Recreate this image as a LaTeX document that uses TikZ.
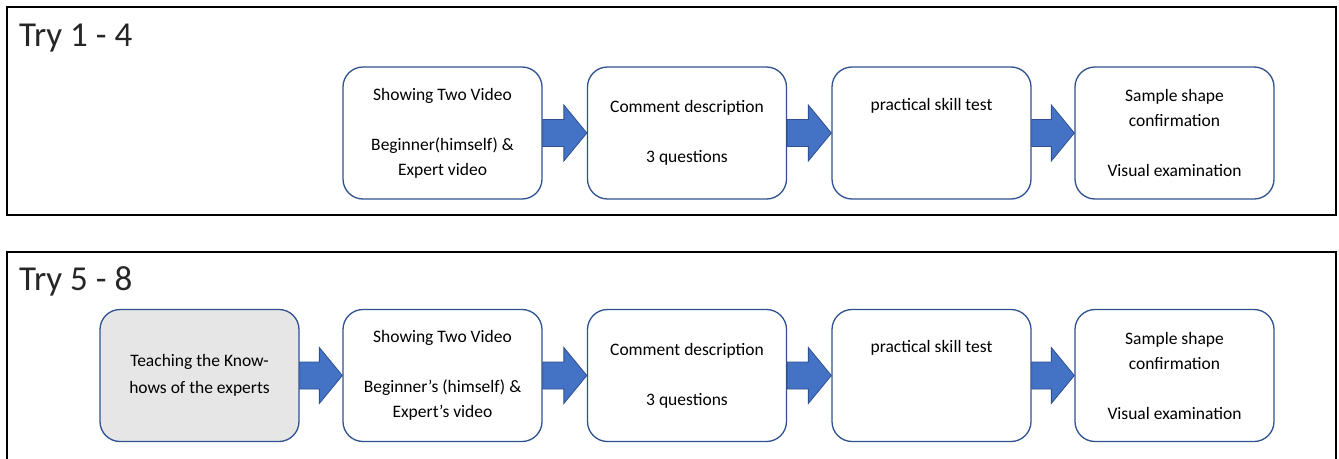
\documentclass[tikz,border=0pt]{standalone}
\usepackage{fontspec}
\setmainfont{Carlito}
\usetikzlibrary{calc}
\definecolor{boxblue}{HTML}{2F528F}
\definecolor{arrowfill}{HTML}{4472C4}
\definecolor{grayfill}{HTML}{E7E6E6}
\tikzset{
  panel/.style={draw=black, line width=1.6pt},
  stepbox/.style={draw=boxblue, line width=1.3pt, rounded corners=20pt, fill=white,
    minimum width=199pt, minimum height=132pt, align=center, inner sep=0pt,
    font=\fontsize{17.5}{25}\selectfont},
  graybox/.style={stepbox, fill=grayfill},
  title/.style={anchor=base west, inner sep=0pt, font=\fontsize{35}{40}\selectfont, text=black!85},
  blockarrow/.style={fill=arrowfill, draw=boxblue, line width=0.8pt}
}
\newcommand{\blockarr}[2]{%
  \path let \p1=(#1.east), \p2=(#2.west) in
    [blockarrow] (\x1,\y1+13.5pt) -- (\x2-23pt,\y1+13.5pt) -- (\x2-23pt,\y1+28pt)
    -- (\x2,\y1) -- (\x2-23pt,\y1-28pt) -- (\x2-23pt,\y1-13.5pt) -- (\x1,\y1-13.5pt) -- cycle;}
\begin{document}
\begin{tikzpicture}[x=1pt,y=-1pt]
\useasboundingbox (0,0) rectangle (1339,458);
\clip (0,0) rectangle (1339,458);
\fill[white] (0,0) rectangle (1339,458);
% panels
\draw[panel] (7,7) rectangle (1336,215);
\draw[panel] (7,252) rectangle (1336,475);
\node[title] (title1) at (19,46) {Try 1 - 4};
\node[title] (title2) at (19,290) {Try 5 - 8};
% top row
\node[stepbox] (t1) at (442.5,133) {Showing Two Video\\[25pt]Beginner(himself) \&\\Expert video};
\node[stepbox] (t2) at (687,133) {Comment description\\[25pt]3 questions};
\node[stepbox] (t3) at (931.5,133) {practical skill test\\[25pt]\strut};
\node[stepbox] (t4) at (1174.5,133) {Sample shape\\confirmation\\[25pt]Visual examination};
% bottom row
\node[graybox] (b0) at (199.5,375.5) {Teaching the Know-\\[2pt]hows of the experts};
\node[stepbox] (b1) at (442.5,375.5) {Showing Two Video\\[25pt]Beginner’s (himself) \&\\Expert’s video};
\node[stepbox] (b2) at (687,375.5) {Comment description\\[25pt]3 questions};
\node[stepbox] (b3) at (931.5,375.5) {practical skill test\\[25pt]\strut};
\node[stepbox] (b4) at (1174.5,375.5) {Sample shape\\confirmation\\[25pt]Visual examination};
% arrows
\blockarr{t1}{t2}
\blockarr{t2}{t3}
\blockarr{t3}{t4}
\blockarr{b0}{b1}
\blockarr{b1}{b2}
\blockarr{b2}{b3}
\blockarr{b3}{b4}
\end{tikzpicture}
\end{document}
